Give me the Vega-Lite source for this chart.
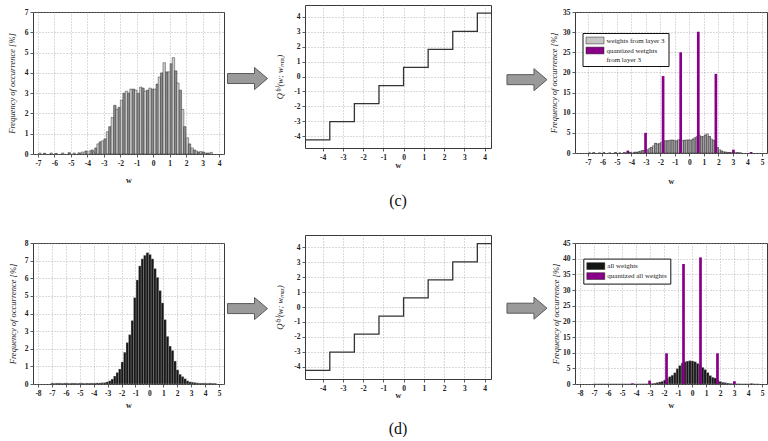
{
  "$schema": "https://vega.github.io/schema/vega-lite/v6.json",
  "background": "white",
  "padding": {"left": 6, "top": 4, "right": 0, "bottom": 0},
  "spacing": 0,
  "bounds": "full",
  "resolve": {"scale": {"color": "independent"}, "legend": {"color": "independent"}},
  "datasets": {
    "l3": [
      {"w": -6.9, "f": 0.05}, {"w": -6.6, "f": 0.04}, {"w": -6.2, "f": 0.05}, {"w": -5.9, "f": 0.03},
      {"w": -5.5, "f": 0.05}, {"w": -5.1, "f": 0.07}, {"w": -4.8, "f": 0.05}, {"w": -4.5, "f": 0.06},
      {"w": -4.3, "f": 0.1}, {"w": -4.08, "f": 0.15}, {"w": -3.83, "f": 0.15}, {"w": -3.71, "f": 0.2},
      {"w": -3.6, "f": 0.1}, {"w": -3.48, "f": 0.3}, {"w": -3.35, "f": 0.5}, {"w": -3.21, "f": 0.6},
      {"w": -3.08, "f": 0.65}, {"w": -2.92, "f": 0.75}, {"w": -2.77, "f": 1.1}, {"w": -2.63, "f": 1.35},
      {"w": -2.48, "f": 1.8}, {"w": -2.33, "f": 2.4}, {"w": -2.19, "f": 2.2}, {"w": -2.06, "f": 2.3},
      {"w": -1.92, "f": 2.65}, {"w": -1.77, "f": 3.0}, {"w": -1.62, "f": 3.1}, {"w": -1.48, "f": 3.0},
      {"w": -1.35, "f": 3.2}, {"w": -1.19, "f": 3.2}, {"w": -1.06, "f": 3.15}, {"w": -0.9, "f": 3.0},
      {"w": -0.75, "f": 3.3}, {"w": -0.62, "f": 3.25}, {"w": -0.48, "f": 3.1}, {"w": -0.33, "f": 3.15},
      {"w": -0.19, "f": 3.25}, {"w": -0.04, "f": 3.2}, {"w": 0.1, "f": 3.2}, {"w": 0.25, "f": 3.45},
      {"w": 0.38, "f": 3.8}, {"w": 0.52, "f": 4.0}, {"w": 0.67, "f": 4.5}, {"w": 0.83, "f": 4.05},
      {"w": 0.98, "f": 4.05}, {"w": 1.1, "f": 4.45}, {"w": 1.23, "f": 4.75}, {"w": 1.37, "f": 4.1},
      {"w": 1.5, "f": 3.5}, {"w": 1.65, "f": 3.15}, {"w": 1.79, "f": 2.2}, {"w": 1.92, "f": 1.35},
      {"w": 2.08, "f": 0.8}, {"w": 2.21, "f": 0.5}, {"w": 2.37, "f": 0.3}, {"w": 2.5, "f": 0.2},
      {"w": 2.63, "f": 0.15}, {"w": 2.75, "f": 0.1}, {"w": 2.9, "f": 0.12}, {"w": 3.04, "f": 0.1},
      {"w": 3.17, "f": 0.05}, {"w": 3.33, "f": 0.05}, {"w": 3.52, "f": 0.08}
    ],
    "all": [
      {"w": -6.98, "f": 0.05}, {"w": -6.8, "f": 0.04}, {"w": -6.62, "f": 0.05}, {"w": -6.44, "f": 0.05},
      {"w": -6.26, "f": 0.04}, {"w": -6.08, "f": 0.05}, {"w": -5.9, "f": 0.05}, {"w": -5.72, "f": 0.04},
      {"w": -5.54, "f": 0.05}, {"w": -5.36, "f": 0.05}, {"w": -5.18, "f": 0.04}, {"w": -5.0, "f": 0.05},
      {"w": -4.82, "f": 0.05}, {"w": -4.64, "f": 0.04}, {"w": -4.46, "f": 0.05}, {"w": -4.28, "f": 0.05},
      {"w": -4.1, "f": 0.05}, {"w": -3.92, "f": 0.05}, {"w": -3.74, "f": 0.06}, {"w": -3.56, "f": 0.06},
      {"w": -3.38, "f": 0.07}, {"w": -3.2, "f": 0.08}, {"w": -3.02, "f": 0.12}, {"w": -2.84, "f": 0.18},
      {"w": -2.66, "f": 0.28}, {"w": -2.48, "f": 0.45}, {"w": -2.3, "f": 0.65}, {"w": -2.12, "f": 0.85},
      {"w": -1.94, "f": 1.25}, {"w": -1.76, "f": 1.8}, {"w": -1.58, "f": 2.35}, {"w": -1.4, "f": 2.8},
      {"w": -1.22, "f": 3.6}, {"w": -1.04, "f": 4.9}, {"w": -0.86, "f": 5.9}, {"w": -0.68, "f": 6.7},
      {"w": -0.5, "f": 7.1}, {"w": -0.32, "f": 7.3}, {"w": -0.14, "f": 7.45}, {"w": 0.04, "f": 7.35},
      {"w": 0.22, "f": 7.1}, {"w": 0.4, "f": 6.55}, {"w": 0.58, "f": 6.05}, {"w": 0.76, "f": 5.3},
      {"w": 0.94, "f": 4.6}, {"w": 1.12, "f": 3.65}, {"w": 1.3, "f": 2.7}, {"w": 1.48, "f": 2.15},
      {"w": 1.66, "f": 1.9}, {"w": 1.84, "f": 1.3}, {"w": 2.02, "f": 0.8}, {"w": 2.2, "f": 0.55},
      {"w": 2.38, "f": 0.42}, {"w": 2.56, "f": 0.3}, {"w": 2.74, "f": 0.18}, {"w": 2.92, "f": 0.12},
      {"w": 3.1, "f": 0.1}, {"w": 3.28, "f": 0.08}, {"w": 3.46, "f": 0.06}, {"w": 3.64, "f": 0.05},
      {"w": 3.82, "f": 0.05}, {"w": 4.0, "f": 0.05}, {"w": 4.18, "f": 0.04}, {"w": 4.36, "f": 0.05},
      {"w": 4.54, "f": 0.04}, {"w": 4.72, "f": 0.04}
    ],
    "q3": [
      {"w": -4.25, "f": 0.6}, {"w": -3.03, "f": 5.0}, {"w": -1.82, "f": 19.1}, {"w": -0.607, "f": 25.0},
      {"w": 0.607, "f": 30.1}, {"w": 1.82, "f": 19.65}, {"w": 3.03, "f": 0.83}, {"w": 4.25, "f": 0.25}
    ],
    "qall": [
      {"w": -4.25, "f": 0.2}, {"w": -3.03, "f": 1.1}, {"w": -1.82, "f": 9.8}, {"w": -0.607, "f": 38.3},
      {"w": 0.607, "f": 40.4}, {"w": 1.82, "f": 9.8}, {"w": 3.03, "f": 0.9}, {"w": 4.25, "f": 0.15}
    ],
    "steps": [
      {"w": -4.87, "q": -4.25}, {"w": -3.645, "q": -3.03}, {"w": -2.43, "q": -1.82}, {"w": -1.215, "q": -0.607},
      {"w": 0, "q": 0.607}, {"w": 1.215, "q": 1.82}, {"w": 2.43, "q": 3.03}, {"w": 3.645, "q": 4.25},
      {"w": 4.32, "q": 4.25}
    ],
    "arrowsL": [{"ax": 0.45, "ay": 0.194}, {"ax": 0.45, "ay": 0.801}],
    "arrowsR": [{"ax": 0.636, "ay": 0.197}, {"ax": 0.636, "ay": 0.8}]
  },
  "hconcat": [
    {
      "vconcat": [
        {"width": 1, "height": 7, "data": {"values": [{}]}, "mark": {"type": "point", "opacity": 0}, "view": {"stroke": null}},
        {
          "width": 191, "height": 142,
          "data": {"name": "l3"},
          "transform": [{"window": [{"op": "row_number", "as": "i"}]}],
          "mark": {"type": "bar", "orient": "vertical", "width": 2.5, "stroke": "#1a1a1a", "strokeWidth": 0.4, "clip": true},
          "encoding": {
            "x": {"field": "w", "type": "quantitative", "scale": {"domain": [-7, 4], "nice": false, "zero": false},
                  "axis": {"values": [-7, -6, -5, -4, -3, -2, -1, 0, 1, 2, 3, 4], "title": "w", "titlePadding": 10, "labelExpr": "'' + datum.value", "labelFlush": false, "labelOverlap": false}},
            "y": {"field": "f", "type": "quantitative", "scale": {"domain": [0, 7], "nice": false},
                  "axis": {"values": [0, 1, 2, 3, 4, 5, 6, 7], "title": "Frequency of occurrence [%]", "titlePadding": 8, "labelExpr": "'' + datum.value"}},
            "fill": {"condition": {"test": "datum.i % 2 == 0", "value": "#8a8a8a"}, "value": "#cacaca"}
          }
        },
        {"width": 1, "height": 89, "data": {"values": [{}]}, "mark": {"type": "point", "opacity": 0}, "view": {"stroke": null}},
        {
          "width": 191, "height": 141,
          "data": {"name": "all"},
          "mark": {"type": "bar", "orient": "vertical", "width": 2.65, "fill": "#161616", "stroke": "#bdbdbd", "strokeWidth": 0.3, "clip": true},
          "encoding": {
            "x": {"field": "w", "type": "quantitative", "scale": {"domain": [-8, 5], "nice": false, "zero": false},
                  "axis": {"values": [-8, -7, -6, -5, -4, -3, -2, -1, 0, 1, 2, 3, 4, 5], "title": "w", "titlePadding": 5, "labelExpr": "'' + datum.value", "labelFlush": false, "labelOverlap": false}},
            "y": {"field": "f", "type": "quantitative", "scale": {"domain": [0, 8], "nice": false},
                  "axis": {"values": [0, 1, 2, 3, 4, 5, 6, 7, 8], "title": "Frequency of occurrence [%]", "titlePadding": 7, "labelExpr": "'' + datum.value"}}
          }
        }
      ],
      "spacing": 0,
      "bounds": "flush"
    },
    {
      "width": 50, "height": 379,
      "data": {"name": "arrowsL"},
      "view": {"stroke": null},
      "mark": {"type": "point", "shape": "M-1,-0.25L0.35,-0.25L0.35,-0.55L1,0L0.35,0.55L0.35,0.25L-1,0.25Z", "size": 1600, "filled": true, "fill": "#9a9a9a", "stroke": "#5a5a5a", "strokeWidth": 1, "opacity": 1},
      "encoding": {
        "x": {"field": "ax", "type": "quantitative", "scale": {"domain": [0, 1]}, "axis": null},
        "y": {"field": "ay", "type": "quantitative", "scale": {"domain": [0, 1], "reverse": true}, "axis": null}
      }
    },
    {
      "vconcat": [
        {
          "width": 186, "height": 143,
          "data": {"name": "steps"},
          "title": {"text": "(c)", "orient": "bottom", "offset": 23, "frame": "group", "font": "Liberation Serif", "fontSize": 16, "fontWeight": "normal", "color": "#111"},
          "mark": {"type": "line", "interpolate": "step-after", "color": "#333", "strokeWidth": 1.3, "clip": true},
          "encoding": {
            "x": {"field": "w", "type": "quantitative", "scale": {"domain": [-4.87, 4.32], "nice": false, "zero": false},
                  "axis": {"values": [-4, -3, -2, -1, 0, 1, 2, 3, 4], "title": "w", "titlePadding": 1, "labelExpr": "'' + datum.value", "labelFlush": false}},
            "y": {"field": "q", "type": "quantitative", "scale": {"domain": [-4.8, 4.8], "nice": false, "zero": false},
                  "axis": {"values": [-4, -3, -2, -1, 0, 1, 2, 3, 4], "title": "Q⁽³⁾(w; wₘₐₓ)", "titlePadding": 9, "labelExpr": "'' + datum.value"}}
          }
        },
        {"width": 1, "height": 87, "data": {"values": [{}]}, "mark": {"type": "point", "opacity": 0}, "view": {"stroke": null}},
        {
          "width": 186, "height": 144,
          "data": {"name": "steps"},
          "title": {"text": "(d)", "orient": "bottom", "offset": 21, "frame": "group", "font": "Liberation Serif", "fontSize": 16, "fontWeight": "normal", "color": "#111"},
          "mark": {"type": "line", "interpolate": "step-after", "color": "#333", "strokeWidth": 1.3, "clip": true},
          "encoding": {
            "x": {"field": "w", "type": "quantitative", "scale": {"domain": [-4.87, 4.32], "nice": false, "zero": false},
                  "axis": {"values": [-4, -3, -2, -1, 0, 1, 2, 3, 4], "title": "w", "titlePadding": 0, "labelExpr": "'' + datum.value", "labelFlush": false}},
            "y": {"field": "q", "type": "quantitative", "scale": {"domain": [-4.83, 4.83], "nice": false, "zero": false},
                  "axis": {"values": [-4, -3, -2, -1, 0, 1, 2, 3, 4], "title": "Q⁽³⁾(w; wₘₐₓ)", "titlePadding": 9, "labelExpr": "'' + datum.value"}}
          }
        }
      ],
      "spacing": 0,
      "bounds": "flush"
    },
    {
      "width": 55, "height": 379,
      "data": {"name": "arrowsR"},
      "view": {"stroke": null},
      "mark": {"type": "point", "shape": "M-1,-0.25L0.35,-0.25L0.35,-0.55L1,0L0.35,0.55L0.35,0.25L-1,0.25Z", "size": 1600, "filled": true, "fill": "#9a9a9a", "stroke": "#5a5a5a", "strokeWidth": 1, "opacity": 1},
      "encoding": {
        "x": {"field": "ax", "type": "quantitative", "scale": {"domain": [0, 1]}, "axis": null},
        "y": {"field": "ay", "type": "quantitative", "scale": {"domain": [0, 1], "reverse": true}, "axis": null}
      }
    },
    {
      "vconcat": [
        {"width": 1, "height": 7, "data": {"values": [{}]}, "mark": {"type": "point", "opacity": 0}, "view": {"stroke": null}},
        {
          "width": 192, "height": 141,
          "encoding": {
            "x": {"field": "w", "type": "quantitative", "scale": {"domain": [-7.55, 5], "nice": false, "zero": false},
                  "axis": {"values": [-7, -6, -5, -4, -3, -2, -1, 0, 1, 2, 3, 4, 5], "title": "w", "titlePadding": 12, "labelExpr": "'' + datum.value", "labelFlush": false, "labelOverlap": false}},
            "y": {"field": "f", "type": "quantitative", "scale": {"domain": [0, 35], "nice": false},
                  "axis": {"values": [0, 5, 10, 15, 20, 25, 30, 35], "title": "Frequency of occurrence [%]", "titlePadding": 4, "labelExpr": "'' + datum.value"}}
          },
          "layer": [
            {
              "data": {"name": "l3"},
              "mark": {"type": "bar", "orient": "vertical", "width": 2.2, "stroke": "#1a1a1a", "strokeWidth": 0.4, "clip": true},
              "encoding": {
                "color": {"datum": "weights from layer 3", "type": "nominal",
                          "scale": {"domain": ["weights from layer 3", "quantized weights from layer 3"], "range": ["#c6c6c6", "#880088"]},
                          "legend": {"orient": "none", "legendX": 7.5, "legendY": 21, "title": null,
                                     "symbolType": "M-1,-0.85H3.5V0.85H-1Z", "symbolSize": 64, "symbolStrokeColor": "#222", "symbolStrokeWidth": 0.5,
                                     "labelFont": "Liberation Serif", "labelFontSize": 7, "labelColor": "#222", "labelLimit": 200,
                                     "labelExpr": "datum.label == 'quantized weights from layer 3' ? ['quantized weights', 'from layer 3'] : datum.label",
                                     "strokeColor": "#111", "fillColor": "white", "padding": 3, "rowPadding": 1, "labelOffset": 12}}
              }
            },
            {
              "data": {"name": "l3"},
              "transform": [{"window": [{"op": "row_number", "as": "i"}]}, {"filter": "datum.i % 2 == 0"}],
              "mark": {"type": "bar", "orient": "vertical", "width": 2.2, "fill": "#9a9a9a", "stroke": "#1a1a1a", "strokeWidth": 0.4, "clip": true}
            },
            {
              "data": {"name": "q3"},
              "mark": {"type": "bar", "orient": "vertical", "width": 2.7, "clip": true},
              "encoding": {"color": {"datum": "quantized weights from layer 3", "type": "nominal"}}
            }
          ]
        },
        {"width": 1, "height": 90, "data": {"values": [{}]}, "mark": {"type": "point", "opacity": 0}, "view": {"stroke": null}},
        {
          "width": 192, "height": 141,
          "encoding": {
            "x": {"field": "w", "type": "quantitative", "scale": {"domain": [-8, 5], "nice": false, "zero": false},
                  "axis": {"values": [-8, -7, -6, -5, -4, -3, -2, -1, 0, 1, 2, 3, 4, 5], "title": "w", "titlePadding": 5, "labelExpr": "'' + datum.value", "labelFlush": false, "labelOverlap": false}},
            "y": {"field": "f", "type": "quantitative", "scale": {"domain": [0, 45], "nice": false},
                  "axis": {"values": [0, 5, 10, 15, 20, 25, 30, 35, 40, 45], "title": "Frequency of occurrence [%]", "titlePadding": 2, "labelExpr": "'' + datum.value"}}
          },
          "layer": [
            {
              "data": {"name": "all"},
              "mark": {"type": "bar", "orient": "vertical", "width": 2.65, "stroke": "#bdbdbd", "strokeWidth": 0.3, "clip": true},
              "encoding": {
                "color": {"datum": "all weights", "type": "nominal",
                          "scale": {"domain": ["all weights", "quantized all weights"], "range": ["#161616", "#880088"]},
                          "legend": {"orient": "none", "legendX": 8.3, "legendY": 15.6, "title": null,
                                     "symbolType": "M-1,-0.85H3.5V0.85H-1Z", "symbolSize": 64, "symbolStrokeColor": "#222", "symbolStrokeWidth": 0.5,
                                     "labelFont": "Liberation Serif", "labelFontSize": 7, "labelColor": "#222", "labelLimit": 200,
                                     "strokeColor": "#111", "fillColor": "white", "padding": 3, "rowPadding": 1, "labelOffset": 12}}
              }
            },
            {
              "data": {"name": "qall"},
              "mark": {"type": "bar", "orient": "vertical", "width": 2.7, "clip": true},
              "encoding": {"color": {"datum": "quantized all weights", "type": "nominal"}}
            }
          ]
        }
      ],
      "spacing": 0,
      "bounds": "flush",
      "resolve": {"scale": {"color": "independent"}, "legend": {"color": "independent"}}
    }
  ],
  "config": {
    "view": {"stroke": "#3a3a3a", "strokeWidth": 1},
    "axis": {
      "domain": false, "grid": true, "gridColor": "#9a9a9a", "gridDash": [1, 2], "gridWidth": 0.7,
      "tickColor": "#333", "tickSize": 3, "tickWidth": 0.8,
      "labelFont": "Liberation Serif", "labelFontSize": 7.5, "labelFontWeight": "bold", "labelColor": "#222", "labelPadding": 2,
      "titleFont": "Liberation Serif", "titleFontSize": 8.5, "titleFontWeight": "normal", "titleFontStyle": "italic", "titleColor": "#222"
    },
    "axisX": {"titleFontStyle": "normal", "titleFontWeight": "bold", "titleFontSize": 8}
  }
}
